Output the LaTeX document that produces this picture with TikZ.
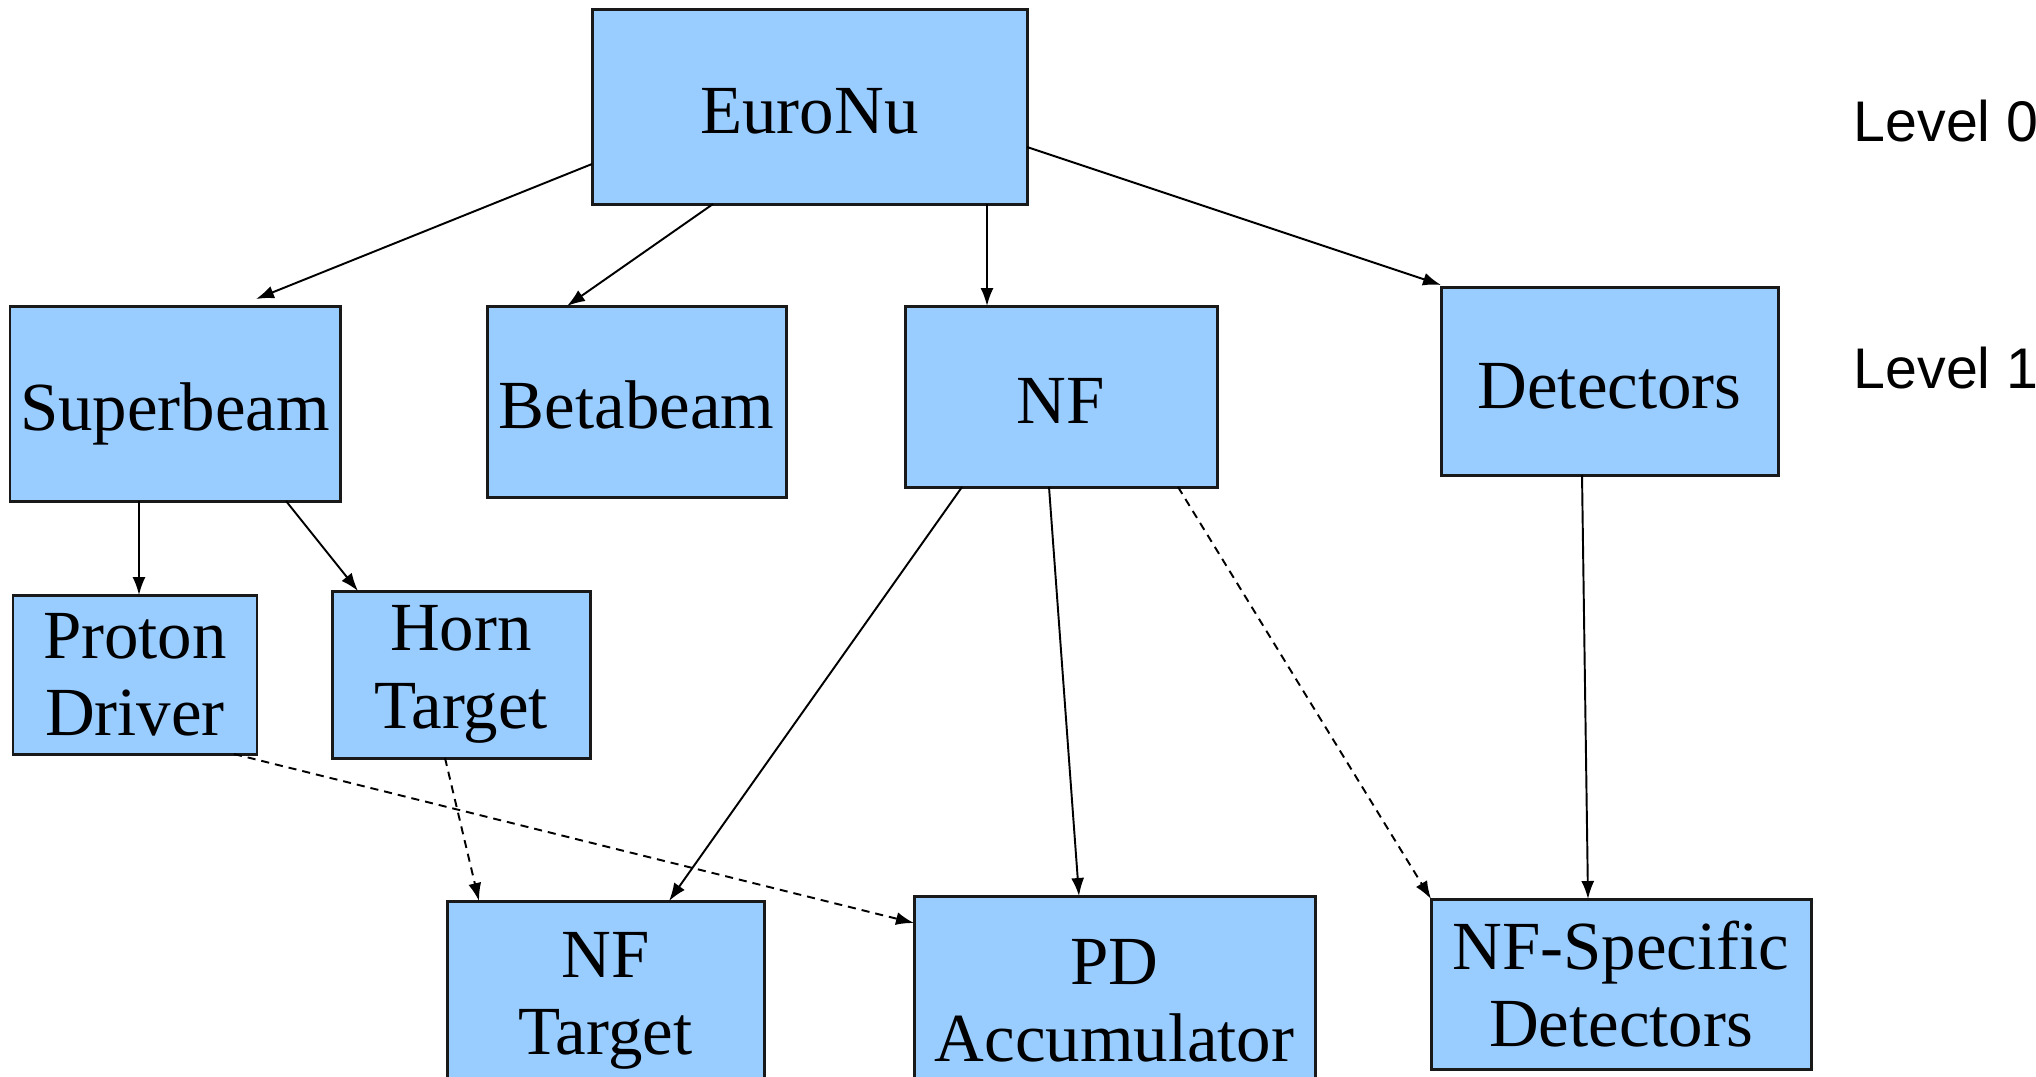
\documentclass[tikz,border=0pt]{standalone}
\usepackage{fontspec}
\setmainfont{Liberation Serif}
\newfontfamily\levelfont{Liberation Sans}
\usetikzlibrary{arrows.meta}

\definecolor{boxblue}{HTML}{99CCFF}

\tikzset{
  wbs/.style={draw=black!90, fill=boxblue, line width=0.85pt, outer sep=0pt,
    inner sep=0pt, align=center, font=\fontsize{19.6}{22}\selectfont},
  oneline/.style={wbs, text height=0.54cm, text depth=0pt},
  link/.style={line width=0.55pt, -{Latex[length=0.18cm, width=0.13cm]}},
  maybe/.style={link, dash pattern=on 2.3pt off 1.7pt},
  lvl/.style={anchor=base west, inner sep=0pt, font=\levelfont\fontsize{16.3}{18}\selectfont}
}

\begin{document}
\begin{tikzpicture}

  \useasboundingbox (0,0) rectangle (20.36,-10.76);

  % level 0
  \node[oneline, minimum width=4.35cm, minimum height=1.95cm] (euronu) at (8.095,-1.065) {EuroNu};

  % level 1
  \node[oneline, minimum width=3.30cm, minimum height=1.95cm] (superbeam) at (1.75,-4.035) {Superbeam};
  \node[oneline, minimum width=2.99cm, minimum height=1.91cm] (betabeam) at (6.365,-4.015) {Betabeam};
  \node[oneline, minimum width=3.12cm, minimum height=1.81cm] (nf) at (10.61,-3.965) {NF};
  \node[oneline, minimum width=3.37cm, minimum height=1.88cm] (detectors) at (16.095,-3.81) {Detectors};

  % superbeam parts
  \node[wbs, minimum width=2.44cm, minimum height=1.59cm] (proton) at (1.35,-6.745) {Proton\\Driver};
  \node[wbs, minimum width=2.58cm, minimum height=1.67cm] (horn) at (4.61,-6.745) {Horn\\Target};

  % bottom row (runs off the page)
  \node[wbs, minimum width=3.17cm, minimum height=2.00cm] (nftarget) at (6.055,-10.01) {NF\\Target};
  \node[wbs, minimum width=4.01cm, minimum height=2.10cm] (pdacc) at (11.145,-10.01) {PD\\Accumulator};
  \node[wbs, minimum width=3.80cm, minimum height=1.70cm] (nfspec) at (16.21,-9.84) {NF-Specific\\Detectors};

  % level labels
  \node[lvl] (lvl0) at (18.53,-1.41) {Level 0};
  \node[lvl] (lvl1) at (18.53,-3.88) {Level 1};

  % from the top box
  \draw[link] ([yshift=0.40cm]euronu.south west) -- ([xshift=2.46cm,yshift=0.07cm]superbeam.north west);
  \draw[link] ([xshift=1.21cm]euronu.south west) -- ([xshift=0.80cm]betabeam.north west);
  \draw[link] ([xshift=3.95cm]euronu.south west) -- ([xshift=0.82cm]nf.north west);
  \draw[link] ([yshift=-1.38cm]euronu.north east) -- ([yshift=0.02cm]detectors.north west);

  % superbeam
  \draw[link] ([xshift=1.29cm]superbeam.south west) -- ([xshift=1.26cm]proton.north west);
  \draw[link] ([xshift=2.76cm]superbeam.south west) -- ([xshift=0.26cm]horn.north west);

  % nf
  \draw[link] ([xshift=0.57cm]nf.south west) -- ([xshift=2.22cm]nftarget.north west);
  \draw[link] ([xshift=1.44cm]nf.south west) -- ([xshift=1.65cm]pdacc.north west);
  \draw[maybe] ([xshift=2.73cm]nf.south west) -- (nfspec.north west);

  % detectors
  \draw[link] ([xshift=1.41cm]detectors.south west) -- ([xshift=1.57cm]nfspec.north west);

  % dashed links
  \draw[maybe] ([xshift=2.21cm]proton.south west) -- ([yshift=-0.27cm]pdacc.north west);
  \draw[maybe] ([xshift=1.13cm]horn.south west) -- ([xshift=0.32cm]nftarget.north west);

\end{tikzpicture}
\end{document}
